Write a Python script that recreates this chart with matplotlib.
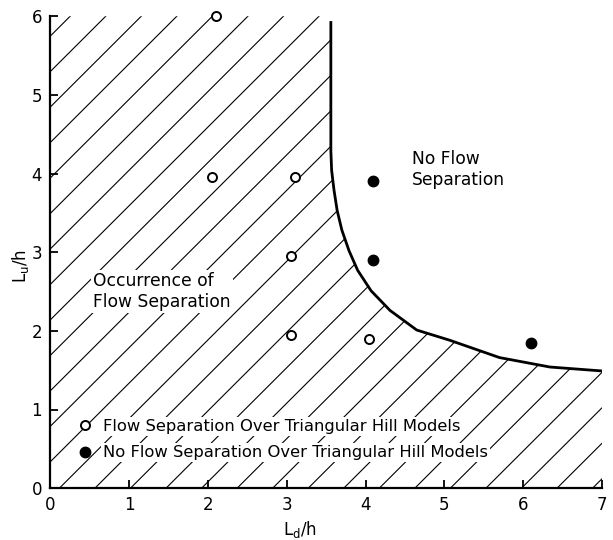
import numpy as np
import matplotlib
matplotlib.use('Agg')
import matplotlib.pyplot as plt
from matplotlib.patches import Polygon

# open circles: flow separation observed
sep_x = [2.1, 2.05, 3.1, 3.05, 3.05, 4.05]
sep_y = [6.0, 3.95, 3.95, 2.95, 1.95, 1.9]
# filled circles: no flow separation
nosep_x = [4.1, 4.1, 6.1]
nosep_y = [3.9, 2.9, 1.85]
# boundary curve
curve_x = [3.56, 3.56, 3.56, 3.57, 3.60, 3.64, 3.70, 3.79, 3.90, 4.07, 4.31, 4.65,
           5.07, 5.70, 6.34, 7.0]
curve_y = [5.92, 4.93, 4.29, 4.04, 3.79, 3.53, 3.28, 3.02, 2.77, 2.51, 2.26, 2.01,
           1.88, 1.66, 1.54, 1.49]

XMAX, YMAX = 7, 6
HATCH_STEP, HATCH_PHASE = 0.451, 0.253

fig = plt.figure(figsize=(6.13, 5.4), dpi=100)
ax = fig.add_axes([0.082, 0.096, 0.90, 0.874])

# hatched "separation" region: left/bottom axes + boundary curve
poly = [(0, 0), (0, YMAX), (curve_x[0], YMAX)] + list(zip(curve_x, curve_y)) + [(XMAX, 0)]
region = Polygon(poly, closed=True, transform=ax.transData)
for c in np.arange(HATCH_PHASE - YMAX, XMAX, HATCH_STEP):
    ln, = ax.plot([c, c + YMAX], [0, YMAX], color='black', lw=0.8, zorder=1)
    ln.set_clip_path(region)

ax.plot(curve_x, curve_y, color='black', lw=2.0, zorder=2)

ax.plot(sep_x, sep_y, 'o', ms=6.5, mfc='white', mec='black', mew=1.4,
        ls='none', clip_on=False, zorder=3,
        label='Flow Separation Over Triangular Hill Models')
ax.plot(nosep_x, nosep_y, 'o', ms=7.5, mfc='black', mec='black',
        ls='none', zorder=3,
        label='No Flow Separation Over Triangular Hill Models')

white = dict(facecolor='white', edgecolor='none', pad=1.5)
ax.text(0.545, 2.5, 'Occurrence of\nFlow Separation', fontsize=12.3,
        va='center', ha='left', linespacing=1.25, bbox=white, zorder=4)
ax.text(4.59, 4.05, 'No Flow\nSeparation', fontsize=12.3,
        va='center', ha='left', linespacing=1.25, zorder=4)

leg = ax.legend(loc='lower left', bbox_to_anchor=(0.042, 0.045), frameon=False,
                handlelength=0.6, handletextpad=0.8, labelspacing=0.68,
                fontsize=11.8, borderaxespad=0)
for t in leg.get_texts():
    t.set_bbox(white)

ax.set_xlim(0, XMAX)
ax.set_ylim(0, YMAX)
ax.set_xticks(range(0, XMAX + 1))
ax.set_yticks(range(0, YMAX + 1))
ax.tick_params(direction='in', length=6, width=1.3, labelsize=12, pad=6)
for s in ('top', 'right'):
    ax.spines[s].set_visible(False)
for s in ('left', 'bottom'):
    ax.spines[s].set_linewidth(1.6)

ax.set_xlabel(r'$\mathregular{L_d/h}$', fontsize=12)
ax.set_ylabel(r'$\mathregular{L_u/h}$', fontsize=12)
ax.xaxis.set_label_coords(0.453, -0.065)
ax.yaxis.set_label_coords(-0.035, 0.47)

fig.savefig('out.png', dpi=100)
